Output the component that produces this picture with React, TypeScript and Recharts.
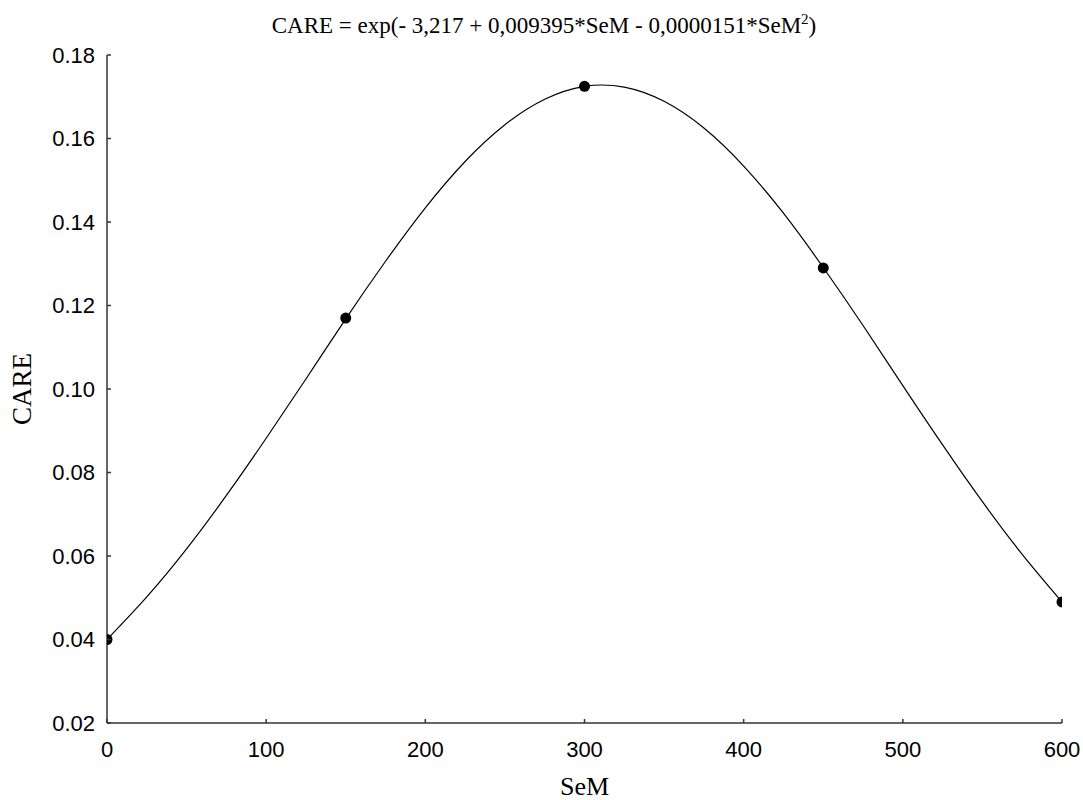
import React from 'react';
import { ComposedChart, Line, Scatter, XAxis, YAxis, Label } from 'recharts';

// fitted curve
const curveSeM = [0, 25, 50, 75, 100, 125, 150, 175, 200, 225, 250, 275, 300, 325, 350, 375, 400, 425, 450, 475, 500, 525, 550, 575, 600];
const curveCARE = [0.040, 0.0502, 0.0617, 0.0745, 0.0882, 0.1024, 0.1168, 0.1306, 0.1434, 0.1545, 0.1633, 0.1694, 0.1725, 0.1723, 0.1689, 0.1625, 0.1534, 0.1421, 0.1291, 0.1152, 0.1008, 0.0866, 0.0730, 0.0604, 0.0490];

// observed points
const pointSeM = [0, 150, 300, 450, 600];
const pointCARE = [0.040, 0.117, 0.1725, 0.129, 0.049];

const xTicks = [0, 100, 200, 300, 400, 500, 600];
const yTicks = [0.02, 0.04, 0.06, 0.08, 0.10, 0.12, 0.14, 0.16, 0.18];

const curveData = curveSeM.map((x, i) => ({ x, y: curveCARE[i] }));
const pointData = pointSeM.map((x, i) => ({ x, y: pointCARE[i] }));

const AXIS = '#333';
const SANS = "'Liberation Sans', Arial, sans-serif";
const SERIF = "'Liberation Serif', 'Times New Roman', serif";

function XTick(props: any) {
  const { x, y, payload } = props;
  return (
    <g>
      <line x1={x} x2={x} y1={y} y2={y - 4} stroke={AXIS} strokeWidth={1.5} />
      <text x={x} y={y + 26.5} textAnchor="middle" dominantBaseline="central" fontFamily={SANS} fontSize={22} fill="#000">
        {payload.value}
      </text>
    </g>
  );
}

function YTick(props: any) {
  const { x, y, payload } = props;
  return (
    <g>
      <line x1={x} x2={x + 4} y1={y} y2={y} stroke={AXIS} strokeWidth={1.5} />
      <text x={x - 12} y={y} textAnchor="end" dominantBaseline="central" fontFamily={SANS} fontSize={22} fill="#000">
        {Number(payload.value).toFixed(2)}
      </text>
    </g>
  );
}

const Dot = (props: any) => <circle cx={props.cx} cy={props.cy} r={5.5} fill="#000" />;

export default function App() {
  return (
    <div style={{ position: 'absolute', left: 0, top: 0, width: 1083, height: 800, background: '#fff' }}>
      <div
        style={{
          position: 'absolute',
          left: 0,
          top: 14,
          width: 1088,
          textAlign: 'center',
          fontFamily: SERIF,
          fontSize: 23,
          lineHeight: '23px',
          color: '#000',
          whiteSpace: 'nowrap',
        }}
      >
        CARE = exp(- 3,217 + 0,009395*SeM - 0,0000151*SeM
        <sup style={{ fontSize: 15, lineHeight: 0, verticalAlign: 'super' }}>2</sup>)
      </div>
      <ComposedChart width={1083} height={800} margin={{ top: 55, right: 21, bottom: 76, left: 106 }}>
        <XAxis
          type="number"
          dataKey="x"
          domain={[0, 600]}
          ticks={xTicks}
          allowDataOverflow
          height={1}
          tickSize={0}
          tickMargin={0}
          tickLine={false}
          axisLine={{ stroke: AXIS, strokeWidth: 1.5 }}
          tick={<XTick />}
          interval={0}
        >
          <Label
            content={(p: any) => {
              const vb = p.viewBox;
              return (
                <text x={vb.x + vb.width / 2} y={vb.y + 63} textAnchor="middle" dominantBaseline="central" fontFamily={SERIF} fontSize={26} fill="#000">
                  SeM
                </text>
              );
            }}
          />
        </XAxis>
        <YAxis
          type="number"
          dataKey="y"
          domain={[0.02, 0.18]}
          ticks={yTicks}
          allowDataOverflow
          width={1}
          tickSize={0}
          tickMargin={0}
          tickLine={false}
          axisLine={{ stroke: AXIS, strokeWidth: 1.5 }}
          tick={<YTick />}
          interval={0}
        >
          <Label
            content={(p: any) => {
              const vb = p.viewBox;
              const cx = vb.x + vb.width - 85;
              const cy = vb.y + vb.height / 2;
              return (
                <text x={cx} y={cy} transform={`rotate(-90 ${cx} ${cy})`} textAnchor="middle" dominantBaseline="central" fontFamily={SERIF} fontSize={27} fill="#000">
                  CARE
                </text>
              );
            }}
          />
        </YAxis>
        <Line data={curveData} dataKey="y" type="natural" stroke="#000" strokeWidth={1.2} dot={false} activeDot={false} isAnimationActive={false} />
        <Scatter data={pointData} dataKey="y" fill="#000" shape={<Dot />} isAnimationActive={false} />
      </ComposedChart>
    </div>
  );
}
